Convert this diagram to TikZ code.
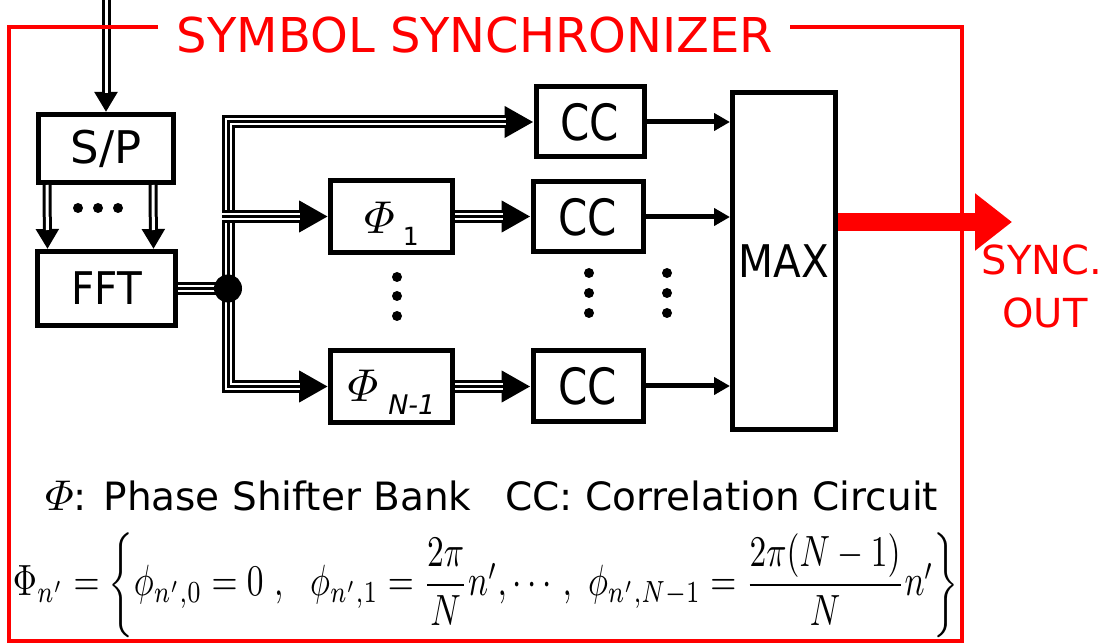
\documentclass[tikz,border=0pt]{standalone}
\usepackage{graphicx}
\usepackage{amsmath}
\usepackage{fontspec}
\setmainfont{DejaVu Sans}
\newfontfamily\condA{DejaVu Sans}[FakeStretch=0.9]
\newfontfamily\condB{DejaVu Sans}[FakeStretch=0.84]
\usetikzlibrary{arrows.meta}
\newcommand{\bigphi}{\scalebox{4.6}{\normalsize$\varPhi$}}
\begin{document}
\begin{tikzpicture}[x=1pt,y=-1pt,
  blk/.style={draw, line width=5pt, inner sep=0pt},
  triline/.style={line width=13pt, postaction={draw=white, line width=7pt}, postaction={draw=black, line width=3pt}},
  triarr/.style={line width=13pt, -{Triangle[length=29pt,width=30pt]},
     postaction={draw=white, line width=7pt, -, shorten >=28pt},
     postaction={draw=black, line width=3pt, -, shorten >=28pt}},
  dblarr/.style={line width=9pt, -{Triangle[length=20pt,width=22pt]},
     postaction={draw=white, line width=3pt, -, shorten >=19pt}},
  sglarr/.style={line width=5pt, -{Triangle[length=16pt,width=17pt]}},
  redarr/.style={draw=red, line width=18pt, -{Triangle[length=37pt,width=55pt]}},
  dotmark/.style={fill=black}
]
\useasboundingbox (0,0) rectangle (1104,644);

% blocks
\node[blk, minimum width=135pt, minimum height=68pt] (sp) at (106,148.5) {\fontsize{45}{50}\selectfont S/P};
\node[blk, minimum width=138pt, minimum height=74pt] (fft) at (106.5,288.5) {\fontsize{45}{50}\selectfont\condA FFT};
\node[blk, minimum width=122pt, minimum height=72pt, text height=35pt, text depth=0pt] (phi1) at (391.5,216.5)
  {\bigphi\hspace{8pt}\raisebox{-12pt}{\fontsize{25}{25}\selectfont 1}};
\node[blk, minimum width=122pt, minimum height=72pt, text height=31pt, text depth=0pt] (phiN) at (391.5,386.5)
  {\bigphi\hspace{10pt}\raisebox{-13pt}{\fontsize{27}{27}\selectfont\itshape N-1}};
\node[blk, minimum width=108pt, minimum height=70pt] (cc1) at (590,122) {\fontsize{50}{56}\selectfont\condB CC};
\node[blk, minimum width=110pt, minimum height=70pt] (cc2) at (588,217) {\fontsize{50}{56}\selectfont\condB CC};
\node[blk, minimum width=110pt, minimum height=71pt] (cc3) at (588,386) {\fontsize{50}{56}\selectfont\condB CC};
\node[blk, minimum width=103pt, minimum height=337pt] (max) at (784,261) {\raisebox{-7pt}{\fontsize{45}{50}\selectfont\condA MAX}};

% input
\coordinate (in) at (106,0);
\draw[dblarr] (in) -- (sp.north);
\draw[dblarr] ([xshift=-59pt]sp.south) -- ([xshift=-59pt]fft.north);
\draw[dblarr] ([xshift=47pt]sp.south) -- ([xshift=47pt]fft.north);
\fill[dotmark] (78,208) circle (5pt) (98,208) circle (5pt) (118,208) circle (5pt);

% bus
\coordinate (jn) at (228,288.5);
\coordinate (b1) at (228,216.5);
\draw[triline] (fft.east) -- (jn);
\draw[triarr] (jn) |- (cc1.west);
\draw[triarr] (jn) |- (phiN.west);
\draw[triarr] ([xshift=-6pt]b1) -- (phi1.west);
\fill[dotmark] (jn) circle (14pt);

% phase shifters to CC
\draw[triarr] (phi1.east) -- (phi1.east -| cc2.west);
\draw[triarr] (phiN.east) -- (phiN.east -| cc3.west);
\fill[dotmark] (397,277) circle (5pt) (397,296) circle (5pt) (397,316) circle (5pt);
\fill[dotmark] (589,273) circle (5pt) (589,293) circle (5pt) (589,313) circle (5pt);
\fill[dotmark] (667,273) circle (5pt) (667,293) circle (5pt) (667,313) circle (5pt);

% CC to MAX
\draw[sglarr] (cc1.east) -- (cc1.east -| max.west);
\draw[sglarr] (cc2.east) -- (cc2.east -| max.west);
\draw[sglarr] (cc3.east) -- (cc3.east -| max.west);

% output
\coordinate (out) at (1012,222);
\draw[redarr] (max.east |- out) -- (out);
\node[red, anchor=base] (sync1) at (1042,275) {\fontsize{40}{48}\selectfont SYNC.};
\node[red, anchor=base] (sync2) at (1045,328) {\fontsize{40}{48}\selectfont OUT};

% frame and title
\draw[red, line width=4.5pt] (158,27) -- (9,27) -- (9,641) -- (962,641) -- (962,27) -- (790,27);
\node[red, anchor=base, inner sep=0pt] (title) at (475,53) {\fontsize{48}{56}\selectfont SYMBOL SYNCHRONIZER};

% legend
\node[anchor=base west, inner sep=0pt] (leg1) at (45,510) {\fontsize{39}{44}\selectfont\scalebox{4.3}{\normalsize$\varPhi$}: Phase Shifter Bank};
\node[anchor=base west, inner sep=0pt] (leg2) at (505,510) {\fontsize{39}{44}\selectfont CC: Correlation Circuit};
\node[inner sep=0pt] (eq) at (486,585) {\resizebox*{946pt}{105pt}{\normalsize$\Phi_{n'}=\left\{\phi_{n',0}=0\ ,\ \ \phi_{n',1}=\dfrac{2\pi}{N}n',\cdots,\ \phi_{n',N-1}=\dfrac{2\pi(N-1)}{N}n'\right\}$}};
\end{tikzpicture}
\end{document}
